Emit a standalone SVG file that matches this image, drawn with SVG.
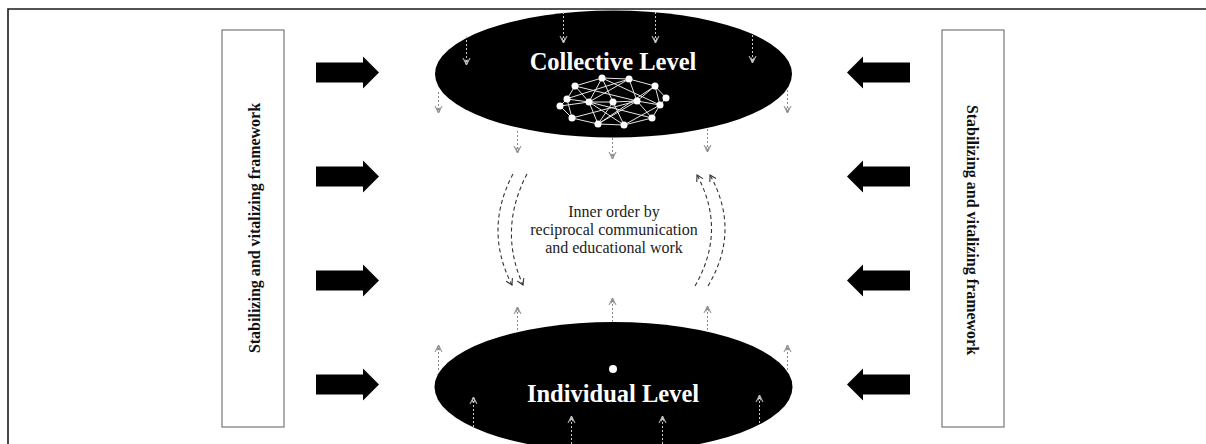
<svg xmlns="http://www.w3.org/2000/svg" width="1206" height="444" viewBox="0 0 1206 444">
<style>
.frame{stroke:#1a1a1a;stroke-width:1.6;fill:none}
.box{fill:#fff;stroke:#777;stroke-width:1.2}
.boxtxt{font-family:"Liberation Serif",serif;font-weight:bold;font-size:16px;fill:#111;text-anchor:middle}
.ell{fill:#000}
.title{font-family:"Liberation Serif",serif;font-weight:bold;font-size:24.5px;fill:#fff;text-anchor:middle}
.mid{font-family:"Liberation Serif",serif;font-size:16px;fill:#222;text-anchor:middle}
.block{fill:#000}
.dotL{stroke:#c8c8c8;stroke-width:1;stroke-dasharray:2 2;fill:none}
.dotD{stroke:#8a8a8a;stroke-width:1;stroke-dasharray:2 2;fill:none}
.arc{stroke:#333;stroke-width:1.1;stroke-dasharray:4 3;fill:none}
.net line{stroke:#e6e6e6;stroke-width:1}
.net circle{fill:#fff}
</style>
<defs>
<marker id="hL" markerUnits="userSpaceOnUse" markerWidth="10" markerHeight="10" refX="7" refY="4" orient="auto" overflow="visible">
<path d="M0,0.5 L7,4 L0,7.5 M1.5,2.5 L7,4 L1.5,5.5" fill="none" stroke="#c8c8c8" stroke-width="1"/>
</marker>
<marker id="hD" markerUnits="userSpaceOnUse" markerWidth="10" markerHeight="10" refX="7" refY="4" orient="auto" overflow="visible">
<path d="M0,0.5 L7,4 L0,7.5 M1.5,2.5 L7,4 L1.5,5.5" fill="none" stroke="#8a8a8a" stroke-width="1"/>
</marker>
<marker id="hA" markerUnits="userSpaceOnUse" markerWidth="10" markerHeight="10" refX="6" refY="4" orient="auto" overflow="visible">
<path d="M0,0.5 L6,4 L0,7.5" fill="none" stroke="#333" stroke-width="1.1"/>
</marker>
<path id="rArrow" d="M0,-10 L47,-10 L47,-16 L63,0 L47,16 L47,10 L0,10 Z"/>
<path id="lArrow" d="M0,-10 L-47,-10 L-47,-16 L-63,0 L-47,16 L-47,10 L0,10 Z"/>
</defs>
<rect x="0" y="0" width="1206" height="444" fill="#fff"/>
<g id="frame">
<path class="frame" d="M8,444 L8,9 L1206,9"/>
</g>
<g id="left-framework">
<rect class="box" x="222" y="30" width="62" height="397"/>
<text class="boxtxt" transform="translate(260,228) rotate(-90)">Stabilizing and vitalizing framework</text>
</g>
<g id="right-framework">
<rect class="box" x="942" y="30" width="62" height="397"/>
<text class="boxtxt" transform="translate(967,230) rotate(90)">Stabilizing and vitalizing framework</text>
</g>
<g id="collective-level">
<ellipse class="ell" cx="613.5" cy="74" rx="178.5" ry="63.5"/>
<text class="title" x="613" y="70">Collective Level</text>
<g class="net">
<line x1="602" y1="78" x2="629" y2="79"/>
<line x1="602" y1="78" x2="575" y2="86"/>
<line x1="602" y1="78" x2="589" y2="102"/>
<line x1="602" y1="78" x2="613" y2="102"/>
<line x1="602" y1="78" x2="660" y2="105"/>
<line x1="629" y1="79" x2="655" y2="86"/>
<line x1="629" y1="79" x2="589" y2="102"/>
<line x1="629" y1="79" x2="637" y2="101"/>
<line x1="629" y1="79" x2="566" y2="99"/>
<line x1="575" y1="86" x2="567" y2="99"/>
<line x1="575" y1="86" x2="637" y2="101"/>
<line x1="575" y1="86" x2="589" y2="102"/>
<line x1="655" y1="86" x2="637" y2="101"/>
<line x1="655" y1="86" x2="660" y2="105"/>
<line x1="655" y1="86" x2="666" y2="98"/>
<line x1="655" y1="86" x2="598" y2="124"/>
<line x1="567" y1="99" x2="560" y2="106"/>
<line x1="567" y1="99" x2="589" y2="102"/>
<line x1="567" y1="99" x2="572" y2="118"/>
<line x1="560" y1="106" x2="572" y2="118"/>
<line x1="589" y1="102" x2="613" y2="102"/>
<line x1="589" y1="102" x2="598" y2="124"/>
<line x1="589" y1="102" x2="624" y2="125"/>
<line x1="589" y1="102" x2="652" y2="118"/>
<line x1="589" y1="102" x2="560" y2="106"/>
<line x1="613" y1="102" x2="637" y2="101"/>
<line x1="613" y1="102" x2="598" y2="124"/>
<line x1="637" y1="101" x2="652" y2="118"/>
<line x1="637" y1="101" x2="660" y2="105"/>
<line x1="637" y1="101" x2="598" y2="124"/>
<line x1="660" y1="105" x2="666" y2="98"/>
<line x1="660" y1="105" x2="652" y2="118"/>
<line x1="660" y1="105" x2="624" y2="125"/>
<line x1="572" y1="118" x2="598" y2="124"/>
<line x1="572" y1="118" x2="637" y2="101"/>
<line x1="598" y1="124" x2="624" y2="125"/>
<line x1="624" y1="125" x2="652" y2="118"/>
<line x1="624" y1="125" x2="613" y2="102"/>
<circle cx="602" cy="78" r="3.5"/>
<circle cx="629" cy="79" r="3.5"/>
<circle cx="575" cy="86" r="3.5"/>
<circle cx="655" cy="86" r="3.5"/>
<circle cx="567" cy="99" r="3.5"/>
<circle cx="666" cy="98" r="3.5"/>
<circle cx="560" cy="106" r="3.5"/>
<circle cx="589" cy="102" r="3.5"/>
<circle cx="613" cy="102" r="3.5"/>
<circle cx="637" cy="101" r="3.5"/>
<circle cx="660" cy="105" r="3.5"/>
<circle cx="572" cy="118" r="3.5"/>
<circle cx="652" cy="118" r="3.5"/>
<circle cx="598" cy="124" r="3.5"/>
<circle cx="624" cy="125" r="3.5"/>
</g>
</g>
<g id="individual-level">
<ellipse class="ell" cx="613.5" cy="387" rx="179" ry="65"/>
<circle cx="613" cy="369" r="4" fill="#fff"/>
<text class="title" x="613" y="402">Individual Level</text>
</g>
<g id="inner-order">
<text class="mid" x="614" y="217">Inner order by</text>
<text class="mid" x="614" y="235">reciprocal communication</text>
<text class="mid" x="614" y="253">and educational work</text>
</g>
<g id="connectors">
<g class="blocks">
<use href="#rArrow" class="block" x="316" y="72.5"/>
<use href="#rArrow" class="block" x="316" y="176.5"/>
<use href="#rArrow" class="block" x="316" y="280.5"/>
<use href="#rArrow" class="block" x="316" y="384.5"/>
<use href="#lArrow" class="block" x="910" y="72.5"/>
<use href="#lArrow" class="block" x="910" y="176.5"/>
<use href="#lArrow" class="block" x="910" y="280.5"/>
<use href="#lArrow" class="block" x="910" y="384.5"/>
</g>
<g class="down">
<line class="dotL" x1="563.5" y1="12" x2="563.5" y2="43" marker-end="url(#hL)"/>
<line class="dotL" x1="655.5" y1="12" x2="655.5" y2="43" marker-end="url(#hL)"/>
<line class="dotL" x1="466.5" y1="36" x2="466.5" y2="65" marker-end="url(#hL)"/>
<line class="dotL" x1="752.5" y1="35" x2="752.5" y2="63" marker-end="url(#hL)"/>
<line class="dotD" x1="438.5" y1="92" x2="438.5" y2="113" marker-end="url(#hD)"/>
<line class="dotD" x1="787.5" y1="90" x2="787.5" y2="113" marker-end="url(#hD)"/>
<line class="dotD" x1="517.5" y1="131" x2="517.5" y2="153" marker-end="url(#hD)"/>
<line class="dotD" x1="612.5" y1="138" x2="612.5" y2="159" marker-end="url(#hD)"/>
<line class="dotD" x1="707.5" y1="129" x2="707.5" y2="152" marker-end="url(#hD)"/>
</g>
<g class="up">
<line class="dotD" x1="517.5" y1="330" x2="517.5" y2="307" marker-end="url(#hD)"/>
<line class="dotD" x1="612.5" y1="322" x2="612.5" y2="298" marker-end="url(#hD)"/>
<line class="dotD" x1="707.5" y1="330" x2="707.5" y2="306" marker-end="url(#hD)"/>
<line class="dotD" x1="438.5" y1="370" x2="438.5" y2="345" marker-end="url(#hD)"/>
<line class="dotD" x1="787.5" y1="370" x2="787.5" y2="345" marker-end="url(#hD)"/>
<line class="dotL" x1="473.5" y1="427" x2="473.5" y2="397" marker-end="url(#hL)"/>
<line class="dotL" x1="759.5" y1="423" x2="759.5" y2="395" marker-end="url(#hL)"/>
<line class="dotL" x1="571.5" y1="444" x2="571.5" y2="416" marker-end="url(#hL)"/>
<line class="dotL" x1="662.5" y1="444" x2="662.5" y2="416" marker-end="url(#hL)"/>
</g>
<g class="arcs">
<path class="arc" d="M513,174 Q483.5,229.5 512,285" marker-end="url(#hA)"/>
<path class="arc" d="M527,174 Q498,229.5 523,285" marker-end="url(#hA)"/>
<path class="arc" d="M695,286 Q727,230.5 697,175" marker-end="url(#hA)"/>
<path class="arc" d="M708,286 Q741,230.5 710,175" marker-end="url(#hA)"/>
</g>
</g>
</svg>
